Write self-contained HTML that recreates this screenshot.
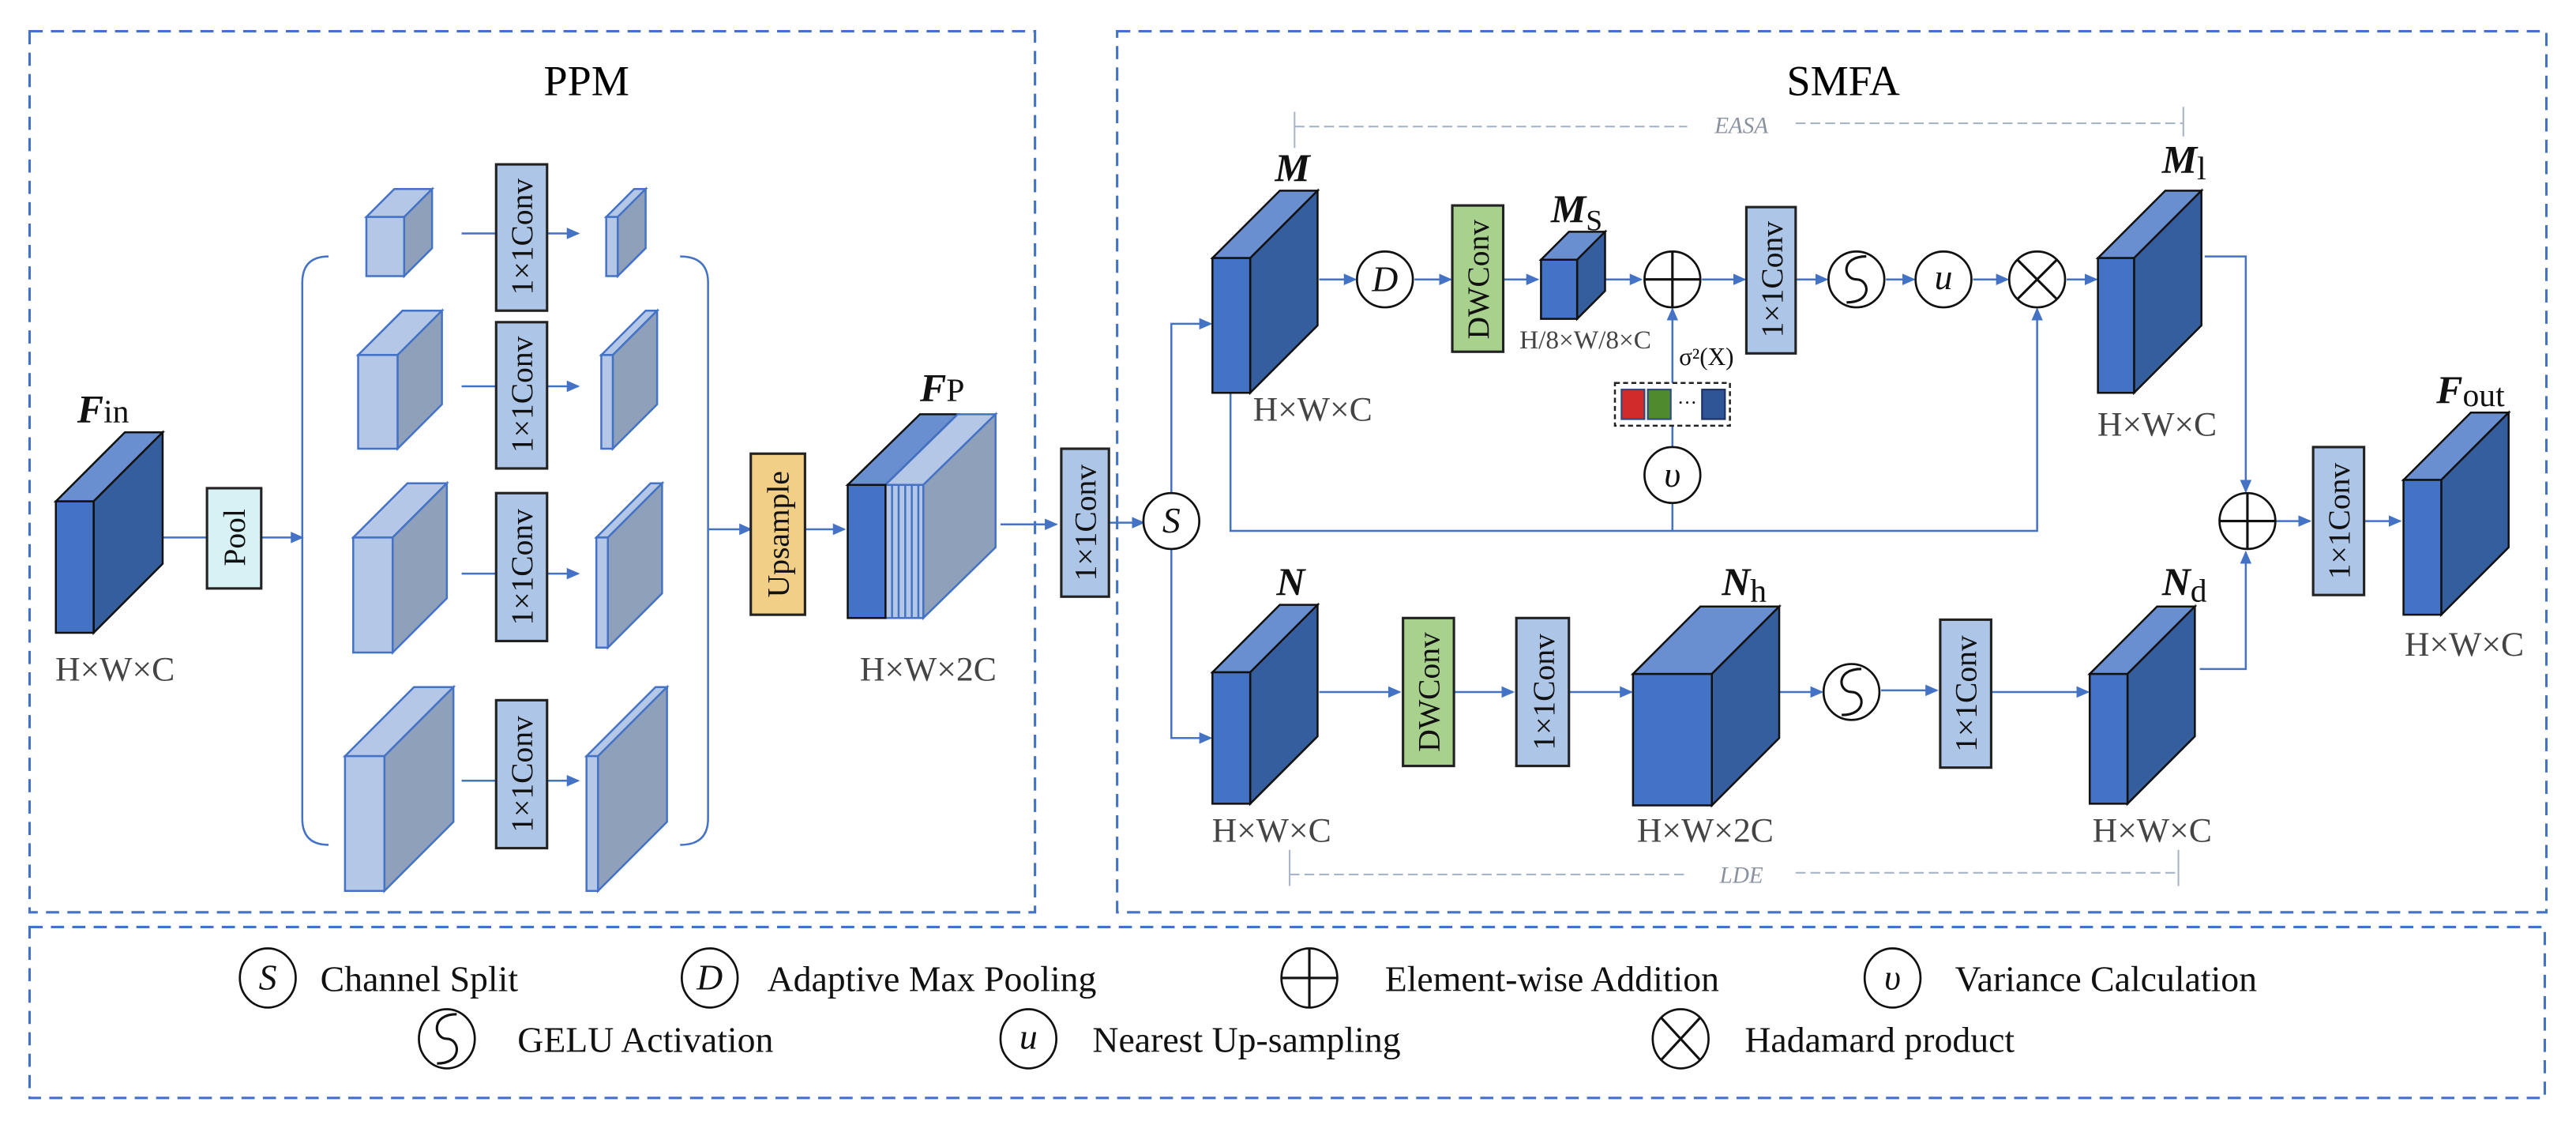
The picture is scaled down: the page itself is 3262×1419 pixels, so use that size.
<!DOCTYPE html>
<html><head><meta charset="utf-8"><style>
html,body{margin:0;padding:0;background:#fff;}
svg{display:block;font-family:"Liberation Serif","DejaVu Serif",serif;}
svg text{font-family:"Liberation Serif","DejaVu Serif",serif;}
</style></head><body>
<svg id="s" width="3262" height="1419" viewBox="0 0 1568 682" preserveAspectRatio="none" xmlns="http://www.w3.org/2000/svg" font-family="Liberation Serif, serif">
<defs>
<marker id="a" markerWidth="8" markerHeight="8" refX="7" refY="4" orient="auto" markerUnits="userSpaceOnUse"><path d="M0,0.5 L8,4 L0,7.5 z" fill="#4472c4"/></marker>
</defs>
<g fill="none" stroke="#4472c4" stroke-width="1.5" stroke-dasharray="8 5">
<rect x="18" y="19" width="612" height="536"/>
<rect x="680" y="19" width="870" height="536"/>
<rect x="18" y="564" width="1531" height="104"/>
</g>
<text x="357" y="58" font-size="26" text-anchor="middle">PPM</text>
<text x="1122" y="58" font-size="26" text-anchor="middle">SMFA</text>

<g stroke="#a8b4c8" stroke-width="1" fill="none">
<path d="M788 68 V90 M1329 65 V83" />
<path d="M788 77 H1027 M1093 75 H1329" stroke-dasharray="6 3"/>
<path d="M785 517 V539 M1326 517 V539" />
<path d="M785 532 H1027 M1093 531 H1326" stroke-dasharray="6 3"/>
</g>
<text x="1060" y="81" font-size="14" font-style="italic" fill="#8a92a0" text-anchor="middle">EASA</text>
<text x="1060" y="537" font-size="14" font-style="italic" fill="#8a92a0" text-anchor="middle">LDE</text>

<g stroke="#4472c4" stroke-width="1.2" fill="none">
<path d="M99 327 H126"/>
<path d="M159 327 H184" marker-end="url(#a)"/>
<path d="M281 142 H302 M333 142 H352" marker-end="url(#a)"/>
<path d="M281 235 H302 M333 235 H352" marker-end="url(#a)"/>
<path d="M281 349 H302 M333 349 H352" marker-end="url(#a)"/>
<path d="M281 475 H302 M333 475 H352" marker-end="url(#a)"/>
<path d="M431 322 H457" marker-end="url(#a)"/>
<path d="M490 322 H514" marker-end="url(#a)"/>
<path d="M609 319 H643" marker-end="url(#a)"/>
<path d="M675 318 H696" marker-end="url(#a)"/>
<path d="M713 300 V197 H737" marker-end="url(#a)"/>
<path d="M713 334 V449 H737" marker-end="url(#a)"/>
<path d="M803 170 H825" marker-end="url(#a)"/>
<path d="M861 170 H883" marker-end="url(#a)"/>
<path d="M915 170 H936" marker-end="url(#a)"/>
<path d="M977 170 H999" marker-end="url(#a)"/>
<path d="M1036 170 H1062" marker-end="url(#a)"/>
<path d="M1093 170 H1112" marker-end="url(#a)"/>
<path d="M1148 170 H1165" marker-end="url(#a)"/>
<path d="M1201 170 H1222" marker-end="url(#a)"/>
<path d="M1258 170 H1276" marker-end="url(#a)"/>
<path d="M1018 233 V188" marker-end="url(#a)"/>
<path d="M1018 259 V272"/>
<path d="M1018 306 V323"/>
<path d="M749 239 V323 H1240 V188" marker-end="url(#a)"/>
<path d="M1342 156 H1367 V299" marker-end="url(#a)"/>
<path d="M1339 407 H1367 V336" marker-end="url(#a)"/>
<path d="M803 421 H852" marker-end="url(#a)"/>
<path d="M885 421 H921" marker-end="url(#a)"/>
<path d="M955 421 H993" marker-end="url(#a)"/>
<path d="M1083 421 H1109" marker-end="url(#a)"/>
<path d="M1145 420 H1179" marker-end="url(#a)"/>
<path d="M1212 421 H1271" marker-end="url(#a)"/>
<path d="M1385 317 H1406" marker-end="url(#a)"/>
<path d="M1439 317 H1461" marker-end="url(#a)"/>
<path d="M200 156 Q184 156 184 172 V498 Q184 514 200 514"/>
<path d="M414 156 Q431 156 431 172 V498 Q431 514 414 514"/>
</g>

<g id="cubes"></g>

<g stroke-width="1.2">
<polygon points="516,295 560,252 583,252 539,295" fill="#6a8fd0" stroke="#111"/>
<polygon points="539,295 583,252 606,252 562,295" fill="#b4c7e7" stroke="#4472c4"/>
<polygon points="562,295 606,252 606,333 562,376" fill="#8fa0bb" stroke="#4472c4"/>
<rect x="539" y="295" width="23" height="81" fill="#b4c7e7" stroke="#4472c4"/>
<path d="M543 295V376M547 295V376M551 295V376M555 295V376M559 295V376" stroke="#4472c4"/>
<rect x="516" y="295" width="23" height="81" fill="#4472c4" stroke="#111"/>
</g>

<g stroke="#222" stroke-width="1.5">
<rect x="126" y="297" width="33" height="61" fill="#d8f1f4"/>
<rect x="302" y="100" width="31" height="89" fill="#adc5e7"/>
<rect x="302" y="196" width="31" height="89" fill="#adc5e7"/>
<rect x="302" y="300" width="31" height="90" fill="#adc5e7"/>
<rect x="302" y="426" width="31" height="90" fill="#adc5e7"/>
<rect x="457" y="276" width="33" height="98" fill="#f2cf86"/>
<rect x="646" y="273" width="29" height="90" fill="#adc5e7"/>
<rect x="884" y="125" width="31" height="89" fill="#a9d18e"/>
<rect x="1063" y="126" width="30" height="89" fill="#adc5e7"/>
<rect x="854" y="376" width="31" height="90" fill="#a9d18e"/>
<rect x="923" y="376" width="32" height="90" fill="#adc5e7"/>
<rect x="1181" y="377" width="31" height="90" fill="#adc5e7"/>
<rect x="1408" y="272" width="31" height="90" fill="#adc5e7"/>
</g>
<g font-size="19" text-anchor="middle" fill="#111">
<text transform="translate(149,327) rotate(-90)">Pool</text>
<text transform="translate(324,144) rotate(-90)">1×1Conv</text>
<text transform="translate(324,240) rotate(-90)">1×1Conv</text>
<text transform="translate(324,345) rotate(-90)">1×1Conv</text>
<text transform="translate(324,471) rotate(-90)">1×1Conv</text>
<text transform="translate(480,325) rotate(-90)">Upsample</text>
<text transform="translate(667,318) rotate(-90)">1×1Conv</text>
<text transform="translate(906,170) rotate(-90)">DWConv</text>
<text transform="translate(1085,170) rotate(-90)">1×1Conv</text>
<text transform="translate(876,421) rotate(-90)">DWConv</text>
<text transform="translate(946,421) rotate(-90)">1×1Conv</text>
<text transform="translate(1203,422) rotate(-90)">1×1Conv</text>
<text transform="translate(1430,317) rotate(-90)">1×1Conv</text>
</g>

<g fill="#444" font-size="21" text-anchor="middle">
<text x="70" y="414">H×W×C</text>
<text x="565" y="414">H×W×2C</text>
<text x="799" y="256">H×W×C</text>
<text x="1313" y="265">H×W×C</text>
<text x="774" y="512">H×W×C</text>
<text x="1038" y="512">H×W×2C</text>
<text x="1310" y="512">H×W×C</text>
<text x="1500" y="399">H×W×C</text>
<text x="965" y="212" font-size="16">H/8×W/8×C</text>
</g>
<g fill="#111" font-weight="bold" font-style="italic" font-size="24">
<text x="47" y="257">F<tspan font-weight="normal" font-style="normal" font-size="20">in</tspan></text>
<text x="560" y="244">F<tspan font-weight="normal" font-style="normal" font-size="20">P</tspan></text>
<text x="776" y="110">M</text>
<text x="944" y="135">M<tspan font-weight="normal" font-style="normal" font-size="18" dy="5">S</tspan></text>
<text x="1316" y="105">M<tspan font-weight="normal" font-style="normal" font-size="20" dy="4">l</tspan></text>
<text x="777" y="362">N</text>
<text x="1048" y="362">N<tspan font-weight="normal" font-style="normal" font-size="20" dy="4">h</tspan></text>
<text x="1316" y="362">N<tspan font-weight="normal" font-style="normal" font-size="20" dy="4">d</tspan></text>
<text x="1483" y="245">F<tspan font-weight="normal" font-style="normal" font-size="20" dy="2">out</tspan></text>
</g>
<text x="1022" y="222" font-size="15" fill="#111">σ²(X)</text>
<rect x="983" y="233" width="70" height="26" fill="#fff" stroke="#222" stroke-width="1.2" stroke-dasharray="3 2"/>
<rect x="987" y="237" width="14" height="18" fill="#d22b2b" stroke="#2a4a80"/>
<rect x="1003" y="237" width="14" height="18" fill="#4f8a2f" stroke="#2a4a80"/>
<text x="1027" y="249" font-size="12" fill="#111" text-anchor="middle">···</text>
<rect x="1036" y="237" width="14" height="18" fill="#2f5597" stroke="#1a3060"/>

<g fill="#fff" stroke="#111" stroke-width="1.3">
<ellipse cx="713" cy="317" rx="17" ry="17"/>
<ellipse cx="843" cy="170" rx="17" ry="17"/>
<ellipse cx="1018" cy="170" rx="17" ry="17"/>
<ellipse cx="1018" cy="289" rx="17" ry="17"/>
<ellipse cx="1130" cy="170" rx="17" ry="17"/>
<ellipse cx="1183" cy="170" rx="17" ry="17"/>
<ellipse cx="1240" cy="170" rx="17" ry="17"/>
<ellipse cx="1127" cy="421" rx="17" ry="17"/>
<ellipse cx="1368" cy="317" rx="17" ry="17"/>
<ellipse cx="163" cy="595" rx="17" ry="18"/>
<ellipse cx="432" cy="595" rx="17" ry="18"/>
<ellipse cx="797" cy="595" rx="17" ry="18"/>
<ellipse cx="1152" cy="595" rx="17" ry="18"/>
<ellipse cx="272" cy="632" rx="17" ry="18"/>
<ellipse cx="626" cy="632" rx="17" ry="18"/>
<ellipse cx="1023" cy="632" rx="17" ry="18"/>
</g>
<g stroke="#111" stroke-width="1.5" fill="none">
<path d="M1001 170H1035M1018 153V187"/>
<path d="M1351 317H1385M1368 300V334"/>
<path d="M780 595H814M797 577V613"/>
<path d="M1228 158L1252 182M1252 158L1228 182"/>
<path d="M1011 619L1035 645M1035 619L1011 645"/>
<path d="M1136 156 C1120 156 1122 170 1130 170 C1138 170 1140 184 1124 184"/>
<path d="M1133 407 C1117 407 1119 421 1127 421 C1135 421 1137 435 1121 435"/>
<path d="M278 617 C262 617 264 632 272 632 C280 632 282 647 266 647"/>
</g>
<g font-size="22" font-style="italic" fill="#111" text-anchor="middle">
<text x="713" y="324">S</text>
<text x="843" y="177">D</text>
<text x="1018" y="296">υ</text>
<text x="1183" y="176">u</text>
<text x="163" y="602">S</text>
<text x="432" y="602">D</text>
<text x="1152" y="602">υ</text>
<text x="626" y="638">u</text>
</g>
<g font-size="22" fill="#111">
<text x="195" y="603">Channel Split</text>
<text x="467" y="603">Adaptive Max Pooling</text>
<text x="843" y="603">Element-wise Addition</text>
<text x="1190" y="603">Variance Calculation</text>
<text x="315" y="640">GELU Activation</text>
<text x="665" y="640">Nearest Up-sampling</text>
<text x="1062" y="640">Hadamard product</text>
</g>
</svg>
<script>
(function(){
var g=document.getElementById('cubes'),ns='http://www.w3.org/2000/svg';
function poly(pts,fill,st){var p=document.createElementNS(ns,'polygon');p.setAttribute('points',pts.map(function(a){return a.join(',')}).join(' '));p.setAttribute('fill',fill);p.setAttribute('stroke',st);p.setAttribute('stroke-width','1.2');g.appendChild(p);}
function cube(x,y,w,h,d,dark){
var f=dark?'#4472c4':'#b4c7e7',t=dark?'#6a8fd0':'#b4c7e7',s=dark?'#355e9e':'#8fa0bb',st=dark?'#111':'#4472c4';
poly([[x,y],[x+d,y-d],[x+w+d,y-d],[x+w,y]],t,st);
poly([[x+w,y],[x+w+d,y-d],[x+w+d,y+h-d],[x+w,y+h]],s,st);
poly([[x,y],[x+w,y],[x+w,y+h],[x,y+h]],f,st);}
[[34,305,23,80,42],[738,157,23,82,41],[1277,157,22,82,41],[938,158,22,36,17],[738,409,23,80,41],[994,410,48,80,41],[1272,410,23,79,41],[1463,292,23,82,41]].forEach(function(c){cube(c[0],c[1],c[2],c[3],c[4],true)});
[[223,132,23,36,17],[218,216,24,57,27],[215,327,24,70,33],[210,460,24,82,42],[369,132,7,36,17],[366,216,7,57,27],[363,327,7,67,33],[357,460,7,82,42]].forEach(function(c){cube(c[0],c[1],c[2],c[3],c[4],false)});
})();
</script>
</body></html>
